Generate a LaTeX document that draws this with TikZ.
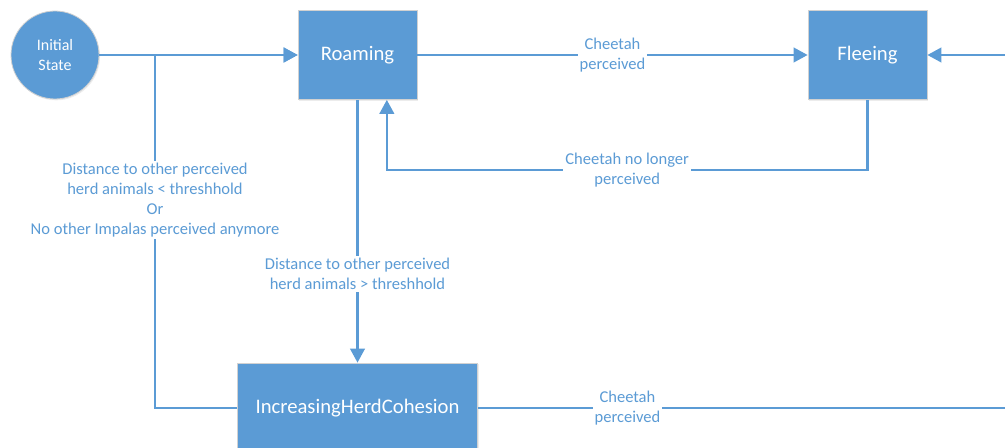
\documentclass[tikz,border=0pt]{standalone}
\usepackage{fontspec}
\setmainfont{Carlito}
\usetikzlibrary{arrows.meta,positioning,shadows}
\definecolor{stateblue}{HTML}{5B9BD5}

\tikzset{
  statebox/.style={rectangle, fill=stateblue, draw=black!18, line width=0.6pt, text=white,
    font=\fontsize{15.5}{18}\selectfont, minimum width=89.25pt, minimum height=66.75pt,
    drop shadow={opacity=0.15, shadow xshift=0.8pt, shadow yshift=-1pt}},
  initstate/.style={circle, fill=stateblue, draw=black!18, line width=0.6pt, text=white,
    align=center, font=\fontsize{12}{15}\selectfont, minimum size=66pt, inner sep=0pt,
    drop shadow={opacity=0.15, shadow xshift=0.8pt, shadow yshift=-1pt}},
  flow/.style={draw=stateblue, line width=1.6pt, -{Triangle[length=10.5pt,width=11pt]}},
  lbl/.style={fill=white, text=stateblue, align=center, inner sep=1.5pt,
    font=\fontsize{12.4}{15}\selectfont}
}

\begin{document}
\begin{tikzpicture}[x=0.75pt, y=-0.75pt]
  \clip (0,0) rectangle (1005,448);
  \node[initstate] (init) at (55,55) {Initial\\State};
  \node[statebox] (roam) at (357.5,55) {Roaming};
  \node[statebox] (flee) at (867.5,55) {Fleeing};
  \node[statebox, minimum width=180pt, minimum height=67.5pt] (cohes) at (357.5,408) {IncreasingHerdCohesion};
  \coordinate (jn) at (155,55);
  \coordinate (offright) at (1040,408);

  \draw[flow] (init) -- (roam);
  \draw[flow] (roam) -- node[lbl] {Cheetah\\perceived} (flee);
  \draw[flow] (flee.south) -- ++(0,70) -| node[lbl, pos=0.25] {Cheetah no longer\\perceived} ([xshift=22pt]roam.south);
  \draw[flow] (roam) -- node[lbl, pos=0.662] {Distance to other perceived\\herd animals > threshhold} (cohes);
  \draw[flow] (cohes) -| node[lbl, pos=0.795] {Distance to other perceived\\herd animals < threshhold\\Or\\No other Impalas perceived anymore} (jn) -- (roam);
  \draw[flow] (cohes) -- node[lbl, pos=0.266] {Cheetah\\perceived} (offright) |- (flee);
\end{tikzpicture}
\end{document}
